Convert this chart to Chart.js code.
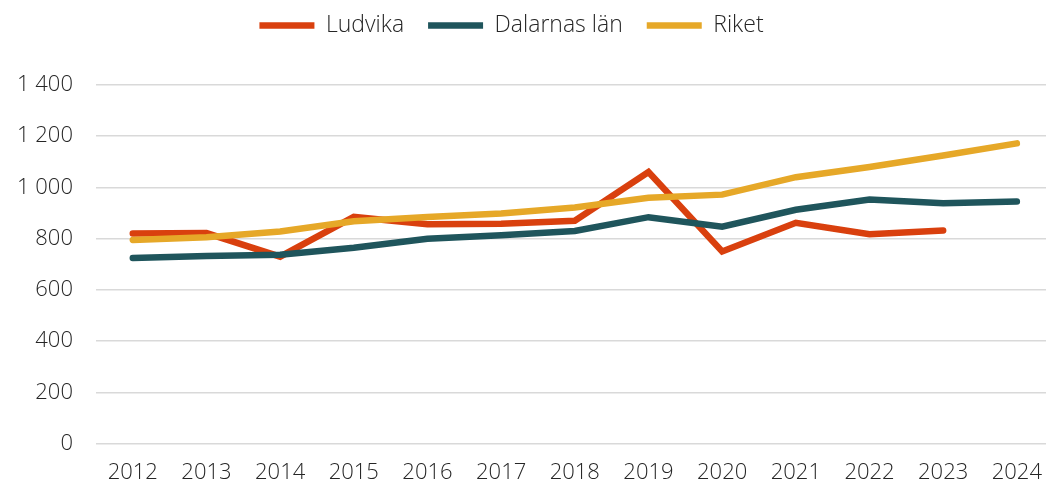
<!DOCTYPE html>
<html lang="sv">
  <head>
    <meta charset="UTF-8" />
    <title>Ludvika, Dalarnas län, Riket</title>
    <script src="https://cdn.jsdelivr.net/npm/chart.js"></script>
    <style>
      body,
      html {
        margin: 0;
        overflow: hidden;
        background: #fff;
      }
      #wrap {
        width: 1058px;
        height: 484px;
        position: relative;
      }
    </style>
  </head>
  <body>
    <div id="wrap"><canvas id="myChart"></canvas></div>
    <script>
      const years = ["2012", "2013", "2014", "2015", "2016", "2017", "2018", "2019", "2020", "2021", "2022", "2023", "2024"];
      const ludvika = [820, 822, 730, 885, 856, 858, 870, 1060, 750, 862, 817, 832, null];
      const dalarna = [725, 732, 737, 765, 800, 813, 830, 884, 847, 913, 953, 938, 945];
      const riket = [795, 806, 828, 868, 885, 898, 922, 960, 972, 1040, 1080, 1125, 1172];
      const yTicks = ["0", "200", "400", "600", "800", "1 000", "1 200", "1 400"];

      const fontFamily = "'Open Sans', sans-serif";

      function line(label, data, color, order) {
        return {
          label: label,
          data: data,
          borderColor: color,
          backgroundColor: color,
          borderWidth: 6.5,
          borderCapStyle: "round",
          pointRadius: 0,
          tension: 0,
          order: order,
        };
      }

      // legend sits higher and a bit left, with more room below it
      const legendTweak = {
        id: "legendTweak",
        beforeInit(chart) {
          const fit = chart.legend.fit;
          chart.legend.fit = function () {
            fit.call(this);
            this.height += 28;
          };
        },
        afterLayout(chart) {
          chart.legend.top -= 10;
          chart.legend.left -= 17;
          chart.legend.right -= 17;
        },
      };

      new Chart(document.getElementById("myChart"), {
        type: "line",
        data: {
          labels: years,
          datasets: [
            line("Ludvika", ludvika, "#d9400e", 2),
            line("Dalarnas län", dalarna, "#1f555c", 1),
            line("Riket", riket, "#e6a828", 0),
          ],
        },
        plugins: [legendTweak],
        options: {
          responsive: true,
          maintainAspectRatio: false,
          animation: false,
          layout: { padding: { top: 0, left: 0, right: 1, bottom: 0 } },
          plugins: {
            tooltip: { enabled: false },
            legend: {
              position: "top",
              labels: {
                usePointStyle: true,
                pointStyle: "line",
                pointStyleWidth: 55,
                padding: 24,
                color: "#262626",
                font: { family: fontFamily, size: 23, weight: 300 },
                sort: (a, b) => a.datasetIndex - b.datasetIndex,
              },
            },
          },
          scales: {
            x: {
              offset: true,
              grid: { display: false, drawTicks: false },
              border: { display: false },
              afterFit: (axis) => {
                axis.height -= 18;
              },
              ticks: {
                padding: 16,
                color: "#262626",
                maxRotation: 0,
                font: { family: fontFamily, size: 22, weight: 300 },
              },
            },
            y: {
              min: 0,
              max: 1400,
              grid: { color: "#d9d9d9", lineWidth: 1.5, drawTicks: false },
              border: { display: false },
              afterFit: (axis) => {
                axis.width -= 6;
              },
              ticks: {
                stepSize: 200,
                padding: 23,
                color: "#262626",
                font: { family: fontFamily, size: 22, weight: 300 },
                callback: (v) => yTicks[v / 200],
              },
            },
          },
        },
      });
    </script>
  </body>
</html>
